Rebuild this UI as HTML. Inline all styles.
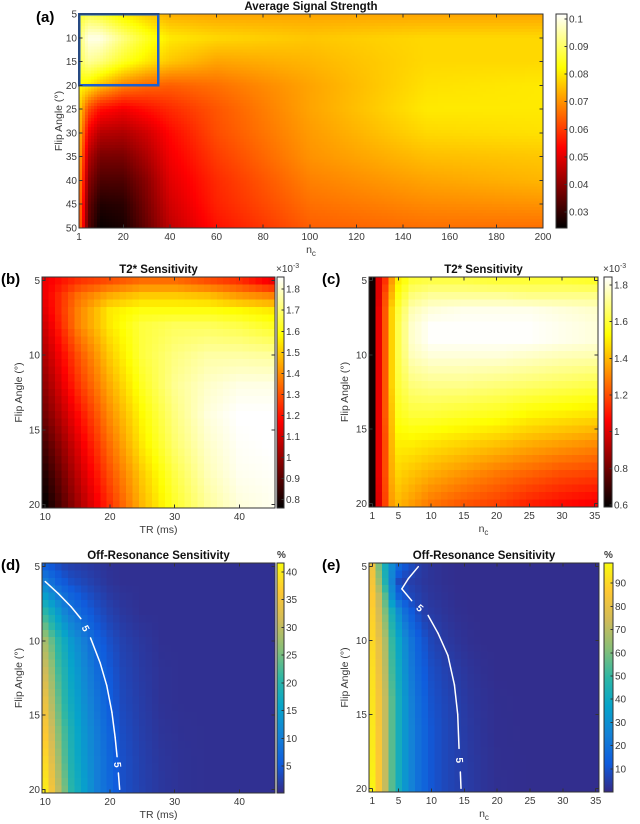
<!DOCTYPE html>
<html><head><meta charset="utf-8"><style>
html,body{margin:0;padding:0;background:#fff;}
svg{display:block;font-family:"Liberation Sans",sans-serif;}
.tk{font-size:10px;fill:#3a3a3a;}
.ttl{font-size:11.5px;font-weight:bold;fill:#111;}
.pl{font-size:15px;font-weight:bold;fill:#000;}
.al{font-size:10.5px;fill:#3a3a3a;}
</style></head><body>
<svg id="fig" width="640" height="824" viewBox="0 0 640 824" shape-rendering="crispEdges">
</svg>
<script>
// ---------- Panel (a) data: Average Signal Strength ----------
const aNc=[1,5,10,20,30,40,60,100,150,200];
const aFlip=[5,10,15,20,25,30,35,40,45,50];
const aVals=[
[0.085,0.088,0.086,0.080,0.076,0.073,0.072,0.072,0.072,0.072],
[0.090,0.100,0.100,0.092,0.085,0.080,0.078,0.076,0.078,0.078],
[0.088,0.094,0.092,0.085,0.080,0.076,0.072,0.074,0.078,0.078],
[0.082,0.080,0.075,0.068,0.065,0.064,0.066,0.072,0.079,0.080],
[0.078,0.062,0.055,0.052,0.055,0.058,0.063,0.072,0.080,0.080],
[0.076,0.052,0.045,0.044,0.048,0.054,0.062,0.071,0.078,0.079],
[0.074,0.045,0.038,0.038,0.044,0.052,0.060,0.070,0.075,0.076],
[0.072,0.040,0.033,0.033,0.040,0.050,0.058,0.068,0.072,0.074],
[0.070,0.036,0.028,0.029,0.038,0.048,0.057,0.066,0.069,0.070],
[0.068,0.034,0.025,0.027,0.036,0.046,0.055,0.064,0.066,0.066]];
const aXTicks=[1,20,40,60,80,100,120,140,160,180,200];
const aYTicks=[5,10,15,20,25,30,35,40,45,50];
const aCbTicks=[0.03,0.04,0.05,0.06,0.07,0.08,0.09,0.1];

// ---------- Panel (b) data: T2* Sensitivity vs TR ----------
const bTR=[10,15,20,25,30,35,40,45];
const bFlip=[5,6,7,8,10,12,14,16,18,20];
const bVals=[
[1.15,1.25,1.30,1.35,1.35,1.30,1.25,1.15],
[1.15,1.35,1.45,1.50,1.50,1.48,1.42,1.38],
[1.13,1.38,1.55,1.60,1.60,1.60,1.58,1.55],
[1.10,1.38,1.55,1.65,1.68,1.68,1.66,1.62],
[1.05,1.30,1.50,1.65,1.72,1.76,1.76,1.75],
[1.00,1.25,1.45,1.62,1.74,1.80,1.83,1.83],
[0.95,1.18,1.40,1.58,1.72,1.82,1.86,1.86],
[0.88,1.12,1.35,1.55,1.70,1.80,1.85,1.86],
[0.82,1.07,1.30,1.50,1.66,1.78,1.84,1.85],
[0.77,1.02,1.25,1.47,1.63,1.75,1.82,1.84]];
const trTicks=[10,20,30,40];
const flipTicks=[5,10,15,20];
const bCbTicks=[0.8,0.9,1,1.1,1.2,1.3,1.4,1.5,1.6,1.7,1.8];

// ---------- Panel (c) data: T2* Sensitivity vs n_c ----------
const cNc=[1,2,3,4,5,7,10,15,20,25,30,35];
const cFlip=[5,6,7,8,9,10,12,14,16,18,20];
const cVals=[
[0.62,1.00,1.15,1.35,1.50,1.60,1.62,1.62,1.60,1.60,1.60,1.58],
[0.62,1.00,1.20,1.40,1.55,1.68,1.72,1.72,1.72,1.70,1.70,1.70],
[0.62,1.02,1.22,1.45,1.60,1.75,1.80,1.82,1.82,1.82,1.80,1.78],
[0.62,1.02,1.22,1.45,1.62,1.78,1.84,1.84,1.84,1.84,1.82,1.80],
[0.62,1.02,1.22,1.45,1.62,1.78,1.84,1.84,1.84,1.84,1.82,1.80],
[0.62,1.02,1.22,1.45,1.62,1.76,1.80,1.80,1.80,1.78,1.76,1.75],
[0.62,1.02,1.22,1.45,1.60,1.68,1.70,1.70,1.68,1.66,1.64,1.62],
[0.62,1.02,1.22,1.42,1.56,1.60,1.60,1.58,1.56,1.52,1.50,1.48],
[0.62,1.02,1.20,1.40,1.50,1.50,1.48,1.45,1.42,1.38,1.35,1.32],
[0.62,1.02,1.20,1.38,1.45,1.42,1.38,1.33,1.28,1.24,1.20,1.18],
[0.62,1.00,1.18,1.35,1.40,1.35,1.28,1.22,1.18,1.12,1.08,1.05]];
const ncTicks=[1,5,10,15,20,25,30,35];
const cCbTicks=[0.6,0.8,1,1.2,1.4,1.6,1.8];

// ---------- Panel (d) data: Off-Resonance vs TR (%) ----------
const dTR=[10,11,12,13,14,16,18,20,22,25,28,31,35,40,45];
const dFlip=[5,6,8,10,12,14,16,18,20];
const dVals=[
[6,5,4,3,2.5,2,1.5,1,0.8,0.8,0.8,0.8,0.8,0.8,0.8],
[10,8,6,5,4,3,2,1.2,0.8,0.8,0.8,0.8,0.8,0.8,0.8],
[20,17,14,11,9,6,4,2.5,1.5,0.8,0.8,0.8,0.8,0.8,0.8],
[28,24,20,17,14,10,6,4,2.5,1.5,0.8,0.8,0.8,0.8,0.8],
[31,27,22,19,16,11.5,7.5,5,3,1.8,1,0.8,0.8,0.8,0.8],
[34,29,24,20,17,12.5,8.5,5.5,3.3,2,1,0.8,0.8,0.8,0.8],
[36,31,26,22,18.5,13.5,9.5,6.3,3.7,2.2,1.2,0.9,0.8,0.8,0.8],
[38,33,28,23,19,14,10,6.7,4,2.4,1.4,1,0.8,0.8,0.8],
[40,35,30,25,20,15,10,7,4,2.5,1.5,1,0.8,0.8,0.8]];
const dContTR=[10,12,14,15.5,17,18.5,19.5,20.3,20.8,21.1,21.3,21.5];
const dContFlip=[6,6.8,7.7,8.5,9.8,11.5,13,14.8,16.5,17.8,18.9,20];
const dCbTicks=[5,10,15,20,25,30,35,40];

// ---------- Panel (e) data: Off-Resonance vs n_c (%) ----------
const eNc=[1,2,3,4,5,6,7,8,9,10,12,14,16,18,20,25,30,35];
const eFlip=[5,6,7,8,10,12,14,16,18,20];
const eVals=[
[82,60,42,28,16,11,8,5,3.5,2.5,1.5,1,1,1,1,1,1,1],
[84,65,45,25,8,6,5,4,3,2.5,1.5,1,1,1,1,1,1,1],
[86,72,55,30,15,10,7,5.5,4,3,2,1.2,1,1,1,1,1,1],
[88,75,60,42,28,18,12,8,5,4,2.5,1.5,1,1,1,1,1,1],
[90,80,68,50,38,28,20,14,10,7,4,2.5,1.5,1,1,1,1,1],
[92,82,70,52,40,30,22,16,12,9,6,4,2.5,1.5,1,1,1,1],
[93,84,72,55,42,32,24,18,14,10,7,5,3,2,1.2,1,1,1],
[94,85,72,55,42,32,25,19,15,11,7.5,5.5,3.5,2.2,1.3,1,1,1],
[95,86,72,55,42,32,25,19,15,11,7.5,5.5,3.8,2.4,1.4,1,1,1],
[97,86,72,55,42,32,25,19,15,11,7.5,5.5,4,2.5,1.5,1,1,1]];
const eContNc=[8,6.5,5.5,7,9.5,11,12.5,13.5,14,14.2,14.4,14.5];
const eContFlip=[5,5.8,6.5,7.3,8.3,9.5,11,13,15,17.3,18.9,20];
const eCbTicks=[10,20,30,40,50,60,70,80,90];

const NS='http://www.w3.org/2000/svg';
const svg=document.getElementById('fig');
function mk(tag,attrs,parent){const e=document.createElementNS(NS,tag);for(const k in attrs)e.setAttribute(k,attrs[k]);(parent||svg).appendChild(e);return e;}
function clamp(v){return Math.max(0,Math.min(1,v));}
function hot(t){t=clamp(t);const r=clamp(t/0.375),g=clamp((t-0.375)/0.375),b=clamp((t-0.75)/0.25);return 'rgb('+Math.round(r*255)+','+Math.round(g*255)+','+Math.round(b*255)+')';}
const PAR=[[53,42,135],[15,92,221],[20,129,214],[6,164,202],[46,183,164],[135,191,119],[209,187,89],[254,200,50],[249,251,14]];
function parula(t){t=clamp(t)*(PAR.length-1);const i=Math.min(PAR.length-2,Math.floor(t)),f=t-i;const c=PAR[i].map((v,k)=>Math.round(v+(PAR[i+1][k]-v)*f));return 'rgb('+c.join(',')+')';}
function lin(d0,d1,r0,r1){return v=>r0+(v-d0)/(d1-d0)*(r1-r0);}
function fmt(v){return (Math.round(v*1000)/1000).toString();}
function bracket(arr,v){
  if(v<=arr[0])return [0,0,0];
  if(v>=arr[arr.length-1])return [arr.length-1,arr.length-1,0];
  let i=0;while(arr[i+1]<v)i++;
  return [i,i+1,(v-arr[i])/(arr[i+1]-arr[i])];
}
function sample(xs,ys,vals,x,y){
  const [i0,i1,fx]=bracket(xs,x),[j0,j1,fy]=bracket(ys,y);
  const a=vals[j0][i0]*(1-fx)+vals[j0][i1]*fx, b=vals[j1][i0]*(1-fx)+vals[j1][i1]*fx;
  return a*(1-fy)+b*fy;
}
let clipN=0;

function panel(c){
  const sx=lin(c.xd[0],c.xd[1],c.x0,c.x1), sy=lin(c.yd[0],c.yd[1],c.y0,c.y1);
  const g=mk('g',{});
  
  
  const cid='clip'+(clipN++);
  const cp=mk('clipPath',{id:cid},g);
  mk('rect',{x:c.x0,y:c.y0,width:c.x1-c.x0,height:c.y1-c.y0},cp);
  const cl=mk('g',{'clip-path':'url(#'+cid+')'},g);
  const hm=mk('g',{},cl);
  
  
  // render grid: nx x ny cells sampled from the data grid
  const nx=c.nx, ny=c.ny;
  const dx=(c.xd[1]-c.xd[0])/nx, dy=(c.yd[1]-c.yd[0])/ny;
  for(let j=0;j<ny;j++){
    const ya=c.yd[0]+j*dy, yc=ya+dy/2;
    const py=sy(ya), ph=sy(ya+dy)-py;
    for(let i=0;i<nx;i++){
      const xa=c.xd[0]+i*dx, xc=xa+dx/2;
      const px=sx(xa), pw=sx(xa+dx)-px;
      const v=sample(c.xs,c.ys,c.vals,xc,yc);
      const r=mk('rect',{x:px.toFixed(2),y:py.toFixed(2),width:(pw+0.7).toFixed(2),height:(ph+0.7).toFixed(2),fill:c.cmap((v-c.cmin)/(c.cmax-c.cmin))},hm);
      
      
    }
  }
  if(c.cx){
    const cg=mk('g',{'shape-rendering':'auto'},cl);
    
    
    for(let k=0;k<c.cx.length-1;k++){
      if(c.gaps.indexOf(k)>=0)continue;
      mk('line',{x1:sx(c.cx[k]),y1:sy(c.cy[k]),x2:sx(c.cx[k+1]),y2:sy(c.cy[k+1]),stroke:'#fff','stroke-width':1.5,'stroke-linecap':'round'},cg);
    }
    c.gaps.forEach(k=>{
      const mx=(sx(c.cx[k])+sx(c.cx[k+1]))/2,my=(sy(c.cy[k])+sy(c.cy[k+1]))/2;
      const ang=Math.atan2(sy(c.cy[k+1])-sy(c.cy[k]),sx(c.cx[k+1])-sx(c.cx[k]))*180/Math.PI;
      const t=mk('text',{x:mx,y:my+3.5,'text-anchor':'middle','font-size':'10px','font-weight':'bold',fill:'#fff',transform:'rotate('+ang+' '+mx+' '+my+')'},cg);
      t.textContent='5';
      
      
    });
  }
  if(c.box){
    const b=mk('rect',{x:sx(c.box[0]),y:sy(c.box[2]),width:sx(c.box[1])-sx(c.box[0]),height:sy(c.box[3])-sy(c.box[2]),fill:'none',stroke:'#1a5fd0','stroke-width':2.5},g);
    
    
  }
  const fr=mk('rect',{x:c.x0,y:c.y0,width:c.x1-c.x0,height:c.y1-c.y0,fill:'none',stroke:'#333','stroke-width':1},g);
  
  
  c.xticks.forEach(v=>{
    const x=sx(v);
    mk('line',{x1:x,y1:c.y1,x2:x,y2:c.y1-3.5,stroke:'#333'},g);
    mk('line',{x1:x,y1:c.y0,x2:x,y2:c.y0+3.5,stroke:'#333'},g);
    const t=mk('text',{x:x,y:c.y1+12,'text-anchor':'middle',class:'tk'},g);
    t.textContent=v;
    
    
  });
  c.yticks.forEach(v=>{
    const y=sy(v);
    mk('line',{x1:c.x0,y1:y,x2:c.x0+3.5,y2:y,stroke:'#333'},g);
    mk('line',{x1:c.x1,y1:y,x2:c.x1-3.5,y2:y,stroke:'#333'},g);
    const t=mk('text',{x:c.x0-2,y:y+3.5,'text-anchor':'end',class:'tk'},g);
    t.textContent=v;
    
    
  });
  const tt=mk('text',{x:(c.x0+c.x1)/2,y:c.y0-4,'text-anchor':'middle',class:'ttl'},g);
  tt.textContent=c.title;
  
  
  const pl=mk('text',{x:c.plx,y:c.ply,class:'pl'},g);
  pl.textContent=c.pl;
  
  
  const xl=mk('text',{x:(c.x0+c.x1)/2,y:c.y1+25,'text-anchor':'middle',class:'al'},g);
  if(c.xlab=='nc'){xl.textContent='n';const s=mk('tspan',{dy:3,'font-size':'8px'},xl);s.textContent='c';}
  else xl.textContent=c.xlab;
  
  
  const yx=c.ylx, yy=(c.y0+c.y1)/2;
  const yl=mk('text',{x:yx,y:yy,'text-anchor':'middle',class:'al',transform:'rotate(-90 '+yx+' '+yy+')'},g);
  yl.textContent='Flip Angle (°)';
  
  
  const gid='grad'+clipN;
  const lg=mk('linearGradient',{id:gid,x1:0,y1:1,x2:0,y2:0},g);
  for(let k=0;k<=40;k++)mk('stop',{offset:k/40,'stop-color':c.cmap(k/40)},lg);
  const cb=mk('rect',{x:c.cb[0],y:c.y0,width:c.cb[1]-c.cb[0],height:c.y1-c.y0,fill:'url(#'+gid+')',stroke:'#333','stroke-width':0.8},g);
  
  
  const sc=lin(c.cmin,c.cmax,c.y1,c.y0);
  c.cbt.forEach(v=>{
    const y=sc(v);
    mk('line',{x1:c.cb[1],y1:y,x2:c.cb[1]-2.5,y2:y,stroke:'#333'},g);
    const t=mk('text',{x:c.cb[1]+2,y:y+3.5,class:'tk'},g);
    t.textContent=fmt(v);
    
    
  });
  if(c.cbhead){
    const h=mk('text',{x:c.cb[0]+(c.cbhead=='%'?0:-1),y:c.y0-5,class:'tk','font-size':'10px'},g);
    if(c.cbhead=='%'){h.textContent='%';h.setAttribute('font-weight','bold');h.setAttribute('fill','#222');}
    else{h.textContent='×10';const s=mk('tspan',{dy:-4,'font-size':'7px'},h);s.textContent='-3';}
    
    
  }
}

panel({name:'panel-a',title:'Average Signal Strength',pl:'(a)',plx:36,ply:22,x0:79,x1:543,y0:14,y1:228,xd:[1,200],yd:[5,50],
  xs:aNc,ys:aFlip,vals:aVals,cmap:hot,cmin:0.0242,cmax:0.1018,nx:155,ny:72,xticks:aXTicks,yticks:aYTicks,
  xlab:'nc',ylx:62,cb:[556,567],cbt:aCbTicks,box:[1,35,5,20]});
panel({name:'panel-b',title:'T2* Sensitivity',pl:'(b)',plx:1,ply:284,x0:42,x1:275,y0:277,y1:508,xd:[9.5,45.5],yd:[4.75,20.25],
  xs:bTR,ys:bFlip,vals:bVals,cmap:hot,cmin:0.76,cmax:1.858,nx:36,ny:31,xticks:trTicks,yticks:flipTicks,
  xlab:'TR (ms)',ylx:22,cb:[277,284],cbt:bCbTicks,cbhead:'x'});
panel({name:'panel-c',title:'T2* Sensitivity',pl:'(c)',plx:322,ply:284,x0:369,x1:598,y0:277,y1:507,xd:[0.5,35.5],yd:[4.75,20.25],
  xs:cNc,ys:cFlip,vals:cVals,cmap:hot,cmin:0.589,cmax:1.844,nx:35,ny:31,xticks:ncTicks,yticks:flipTicks,
  xlab:'nc',ylx:348,cb:[604,612],cbt:cCbTicks,cbhead:'x'});
panel({name:'panel-d',title:'Off-Resonance Sensitivity',pl:'(d)',plx:1,ply:570,x0:42,x1:275,y0:563,y1:793,xd:[9.5,45.5],yd:[4.75,20.25],
  xs:dTR,ys:dFlip,vals:dVals,cmap:parula,cmin:0.15,cmax:41.6,nx:36,ny:31,xticks:trTicks,yticks:flipTicks,
  xlab:'TR (ms)',ylx:22,cb:[277,284],cbt:dCbTicks,cbhead:'%',cx:dContTR,cy:dContFlip,gaps:[3,9]});
panel({name:'panel-e',title:'Off-Resonance Sensitivity',pl:'(e)',plx:322,ply:570,x0:369,x1:599,y0:563,y1:792,xd:[0.5,35.5],yd:[4.75,20.25],
  xs:eNc,ys:eFlip,vals:eVals,cmap:parula,cmin:0,cmax:98.7,nx:35,ny:31,xticks:ncTicks,yticks:flipTicks,
  xlab:'nc',ylx:348,cb:[604,613],cbt:eCbTicks,cbhead:'%',cx:eContNc,cy:eContFlip,gaps:[3,9]});
</script>
</body></html>
